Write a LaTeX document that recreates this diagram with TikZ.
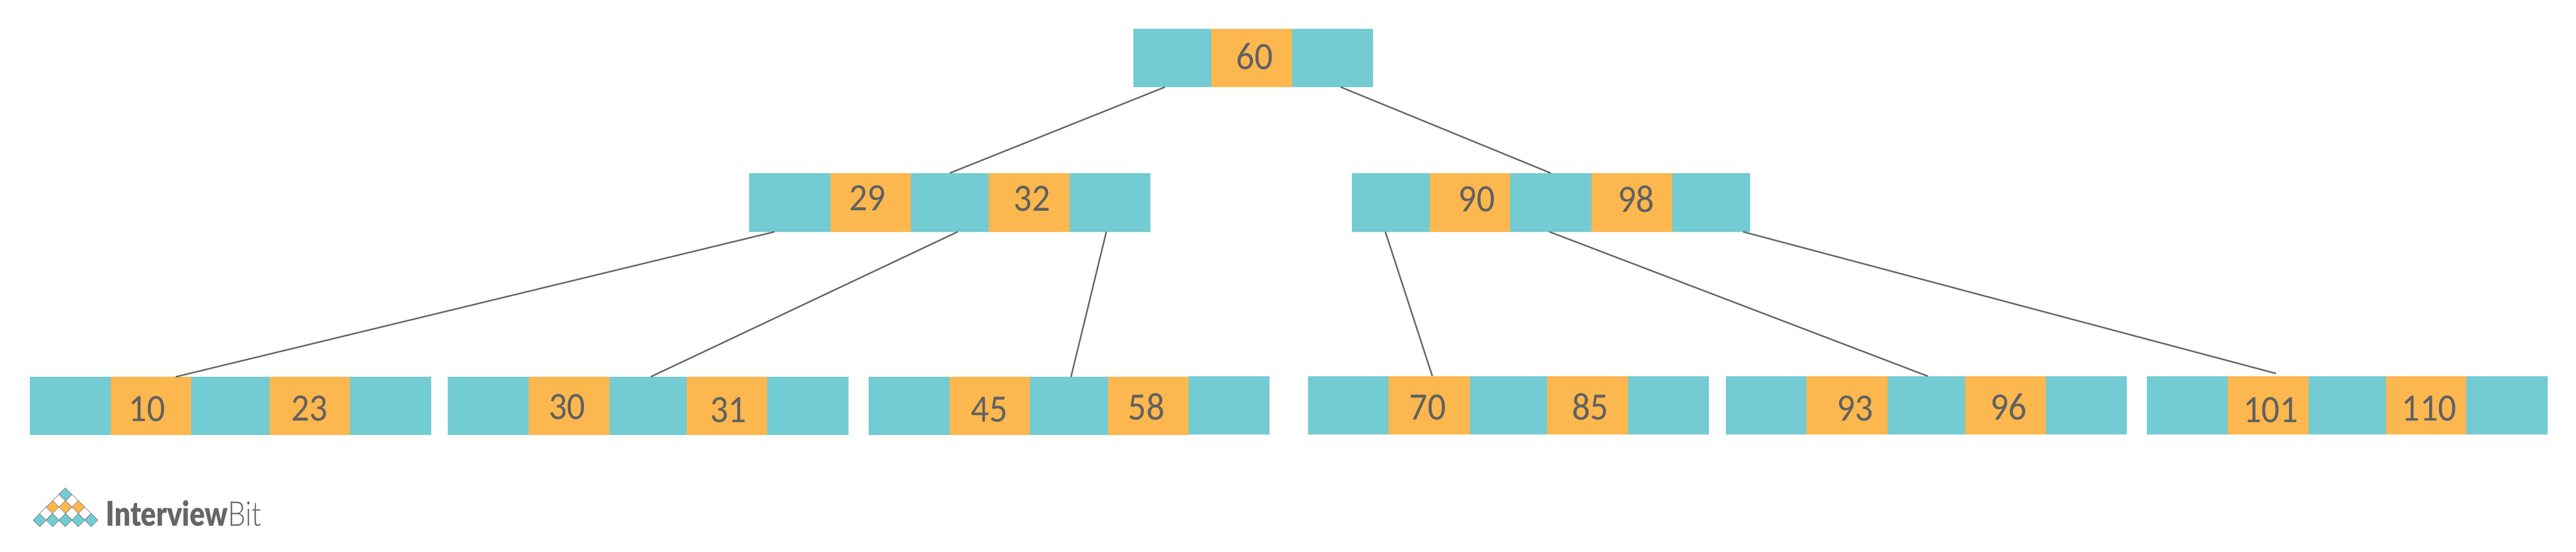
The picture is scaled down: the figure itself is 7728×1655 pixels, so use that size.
\documentclass[tikz,border=0pt]{standalone}
\usepackage{fontspec}
\setmainfont{Carlito}
\newfontfamily\logoheavy{Lato Black}
\newfontfamily\logolight{Lato Light}
\definecolor{ptrteal}{HTML}{73CBD3}
\definecolor{keyorange}{HTML}{FCB74F}
\definecolor{inkgray}{HTML}{616161}
\definecolor{edgegray}{HTML}{666666}
\tikzset{
  ptrcell/.style={fill=ptrteal,inner sep=0pt,outer sep=0pt,anchor=north west},
  keycell/.style={fill=keyorange,inner sep=0pt,outer sep=0pt,anchor=north west},
  cellsize/.style 2 args={minimum width=(#1)*0.01cm,minimum height=(#2)*0.01cm},
  keytext/.style={text=inkgray,inner sep=0pt,font=\fontsize{33}{36}\selectfont},
  edge/.style={draw=edgegray,line width=0.045cm},
  gem/.style={draw=edgegray,line width=0.01cm,line join=miter}
}
\begin{document}
\begin{tikzpicture}[x=0.01cm,y=-0.01cm]
    \useasboundingbox (0,0) rectangle (7728,1655);
    % ===== ROOT =====
    \node[ptrcell,cellsize={3633-3401}{175}] (rootL) at (3401,86) {};
    \node[keycell,cellsize={3876-3633}{175}] (rootK) at (3633,86) {};
    \node[ptrcell,cellsize={4119-3876}{175}] (rootR) at (3876,86) {};
    % ===== INNER NODES AND LEAVES =====
    \foreach \nm/\xa/\xb/\xc/\xd/\xe/\xf/\ya/\yb/\ye in {
        midA/2248/2491/2733/2966/3208/3451/519/695/519,
        midB/4056/4289/4530/4774/5017/5250/519/695/519,
        leafA/90/333/574/808/1050/1293/1130/1305/1130,
        leafB/1343/1586/1828/2060/2302/2546/1130/1305/1130,
        leafC/2606/2849/3090/3324/3565/3808/1130/1305/1128,
        leafD/3924/4166/4409/4642/4884/5127/1128/1303/1128,
        leafE/5177/5419/5663/5895/6137/6380/1128/1303/1128,
        leafF/6440/6683/6925/7157/7399/7643/1128/1303/1128} {
      \node[ptrcell,cellsize={\xb-\xa}{\yb-\ya}] (\nm1) at (\xa,\ya) {};
      \node[keycell,cellsize={\xc-\xb}{\yb-\ya}] (\nm2) at (\xb,\ya) {};
      \node[ptrcell,cellsize={\xd-\xc}{\yb-\ya}] (\nm3) at (\xc,\ya) {};
      \node[keycell,cellsize={\xe-\xd}{\yb-\ya}] (\nm4) at (\xd,\ya) {};
      \node[ptrcell,cellsize={\xf-\xe}{\yb-\ya}] (\nm5) at (\xe,\ye) {};
    }
    % ===== KEYS =====
    \foreach \val/\x/\y in {60/3764/169,29/2602/593,32/3096/595,90/4430/597,98/4908/597,
        10/441/1227,23/928/1225,30/1701/1220,31/2185/1229,45/2968/1228,58/3439/1220,
        70/4283/1222,85/4771/1220,93/5565/1225,96/6026/1220,101/6812/1229,110/7287/1225} {
      \node[keytext] (key\val) at (\x,\y) {\scalebox{.93}[1]{\val}};
    }
    % ===== EDGES =====
    \draw[edge] ([xshift=-.22cm]rootL.south) -- (midA3.north);
    \draw[edge] ([xshift=.245cm]rootR.south) -- (midB3.north);
    \draw[edge] ([xshift=-.455cm]midA1.south) -- ([xshift=.735cm]leafA2.north);
    \draw[edge] ([xshift=.235cm]midA3.south) -- ([xshift=.08cm]leafB3.north);
    \draw[edge] ([xshift=-.105cm]midA5.south) -- ([xshift=.06cm]leafC3.north);
    \draw[edge] ([xshift=-.165cm]midB1.south) -- ([xshift=.095cm]leafD2.north);
    \draw[edge] ([xshift=-.04cm]midB3.south) -- ([xshift=.04cm]leafE3.north);
    \draw[edge] ([xshift=.955cm]midB5.south) -- ([xshift=.24cm,yshift=.08cm]leafF2.north);
    % ===== LOGO =====
    \foreach \x/\y/\col in {196/1482.5/ptrteal,177/1502/white,216/1502/white,
        158/1521/keyorange,196/1521/keyorange,235/1521/keyorange,
        138/1540/white,177/1540/white,216/1540/white,254/1540/white,
        119/1560/ptrteal,158/1560/ptrteal,196/1560/ptrteal,235/1560/ptrteal,274/1560/ptrteal} {
      \draw[gem,fill=\col] (\x,\y-19.5) -- (\x+19.5,\y) -- (\x,\y+19.5) -- (\x-19.5,\y) -- cycle;
    }
    \node[anchor=base west,inner sep=0pt,text=edgegray,font=\fontsize{29}{32}\selectfont] (logoText)
      at (317,1578) {\scalebox{.83}[1]{{\logoheavy Interview}{\logolight Bit}}};
\end{tikzpicture}
\end{document}
